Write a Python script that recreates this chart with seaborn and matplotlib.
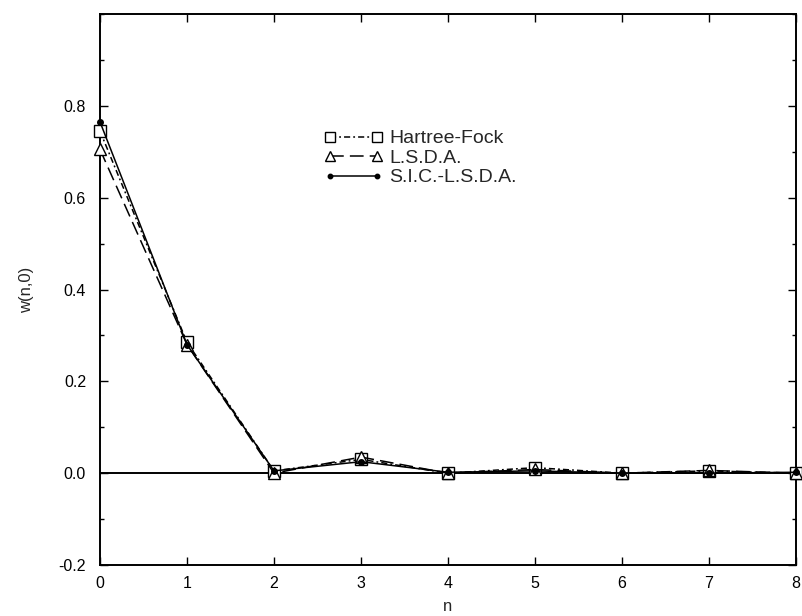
import matplotlib
matplotlib.use("Agg")
import matplotlib.pyplot as plt
import seaborn as sns
import pandas as pd
from matplotlib.ticker import MultipleLocator

# Wannier-function weights w(n,0) for each shell n
n = [0, 1, 2, 3, 4, 5, 6, 7, 8]
w_hf = [0.745, 0.285, 0.005, 0.030, 0.000, 0.012, 0.000, 0.005, 0.000]
w_lsda = [0.705, 0.280, 0.000, 0.035, 0.000, 0.008, 0.000, 0.006, 0.000]
w_sic = [0.765, 0.280, 0.005, 0.025, 0.002, 0.005, 0.000, 0.000, 0.002]
labels = ["Hartree-Fock", "L.S.D.A.", "S.I.C.-L.S.D.A."]

sns.set_theme(style="ticks")
plt.rcParams["font.family"] = ["Liberation Sans", "DejaVu Sans"]
plt.rcParams["axes.unicode_minus"] = False

fig = plt.figure(figsize=(8.02, 6.16), dpi=100)
ax = fig.add_axes([100 / 802, 1 - 565 / 616, 696 / 802, 551 / 616])

ax.axhline(0.0, color="black", lw=1.4, zorder=1)

styles = [
    dict(ls=(0, (4, 2, 1.2, 2)), marker="s", ms=8.5, mfc="white", mec="black", mew=1.0),
    dict(ls=(0, (9, 4)), marker="^", ms=9, mfc="white", mec="black", mew=1.0),
    dict(ls="-", marker="o", ms=4, mfc="black", mec="black", mew=1.0),
]
for vals, lab, st in zip([w_hf, w_lsda, w_sic], labels, styles):
    df = pd.DataFrame({"n": n, "w": vals})
    sns.lineplot(data=df, x="n", y="w", ax=ax, color="black", lw=1.1,
                 label=lab, clip_on=False, zorder=3, **st)

ax.set_xlim(0, 8)
ax.set_ylim(-0.2, 1.0)
ax.set_yticks([-0.2, 0.0, 0.2, 0.4, 0.6, 0.8])
ax.yaxis.set_minor_locator(MultipleLocator(0.1))
ax.set_xticks(range(0, 9))
ax.tick_params(axis="both", which="both", direction="in", top=True, right=True,
               labelsize=11.5, colors="black")
ax.tick_params(which="major", length=6, width=1)
ax.tick_params(which="minor", length=3, width=1)
ax.tick_params(axis="x", pad=8)
ax.tick_params(axis="y", pad=10)
for sp in ax.spines.values():
    sp.set_color("black")
    sp.set_linewidth(1.4)

ax.set_xlabel("n", fontsize=12, labelpad=6)
ax.set_ylabel("w(n,0)", fontsize=12, labelpad=18)

leg = ax.legend(loc="upper left", bbox_to_anchor=(0.322, 0.79), frameon=False,
                fontsize=14, numpoints=2, markerscale=0.8, handlelength=3.0,
                handletextpad=0.35, labelspacing=0.1, borderaxespad=0,
                borderpad=0)

fig.savefig("out.png", dpi=100)
